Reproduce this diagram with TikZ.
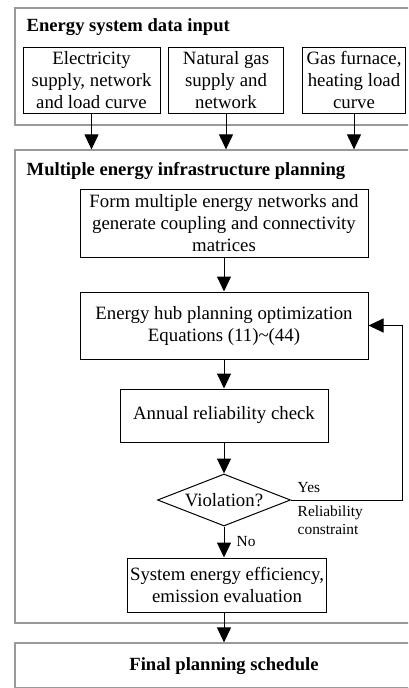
\documentclass[tikz,border=0pt]{standalone}
\usepackage{fontspec}
\setmainfont{Liberation Serif}
\usetikzlibrary{shapes.geometric,arrows.meta}

\begin{document}
\begin{tikzpicture}[x=1pt,y=-1pt,>={Triangle[width=14pt,length=15pt]},thick,
    box/.style={rectangle,draw,line width=1pt,align=center,inner sep=0pt,font=\fontsize{18.8}{22}\selectfont},
    group/.style={rectangle,draw=gray!80,line width=1.2pt,inner sep=0pt},
    title/.style={anchor=west,font=\fontsize{18.6}{22}\selectfont\bfseries},
    note/.style={anchor=west,align=left,font=\fontsize{15.4}{17.5}\selectfont}]
    \useasboundingbox (0,0) rectangle (408,688);
    \clip (0,0) rectangle (408,688);

    % data input
    \node[group,minimum width=398pt,minimum height=117pt] (input) at (214,66.5) {};
    \node[title] (inputtitle) at (23,27) {Energy system data input};
    \node[box,minimum width=137pt,minimum height=66pt] (elec) at (91.5,80) {Electricity\\supply, network\\and load curve};
    \node[box,minimum width=115pt,minimum height=66pt] (gas) at (226,80) {Natural gas\\supply and\\network};
    \node[box,minimum width=103pt,minimum height=66pt] (furn) at (354,80) {Gas furnace,\\heating load\\curve};

    % planning
    \node[group,minimum width=398pt,minimum height=473pt] (plan) at (214,386.5) {};
    \node[title] (plantitle) at (23,171) {Multiple energy infrastructure planning};
    \node[box,minimum width=288pt,minimum height=68pt] (form) at (224,223) {Form multiple energy networks and\\generate coupling and connectivity\\matrices};
    \node[box,minimum width=288pt,minimum height=67pt] (hub) at (224,325.5) {Energy hub planning optimization\\Equations (11)\textasciitilde(44)};
    \node[box,minimum width=208pt,minimum height=53pt] (annual) at (224,415.5) {Annual reliability check};
    \node[box,diamond,aspect=2.6,minimum width=133pt,minimum height=52pt] (viol) at (224,500) {Violation?};
    \node[box,minimum width=199pt,minimum height=54pt] (sys) at (227,585) {System energy efficiency,\\emission evaluation};
    \coordinate (loop) at (402,500);

    % final
    \node[group,minimum width=398pt,minimum height=45pt] (final) at (214,665.5) {};
    \node[font=\fontsize{18.6}{22}\selectfont\bfseries] (finaltitle) at (224,666) {Final planning schedule};

    \node[note] (yes) at (294,488) {Yes};
    \node[note] (rel) at (294,520) {Reliability\\constraint};
    \node[note] (no) at (233,542) {No};

    \draw[->,line width=1pt] (elec.south) -- (elec.south |- plan.north);
    \draw[->,line width=1pt] (gas.south) -- (gas.south |- plan.north);
    \draw[->,line width=1pt] (furn.south) -- (furn.south |- plan.north);
    \draw[->,line width=1pt] (form) -- (hub);
    \draw[->,line width=1pt] (hub) -- (annual);
    \draw[->,line width=1pt] (annual) -- (viol);
    \draw[->,line width=1pt] (viol.south) -- (viol.south |- sys.north);
    \draw[->,line width=1pt] (viol.east) -- (loop) |- (hub.east);
    \draw[->,line width=1pt] (viol.south |- sys.south) -- (viol.south |- final.north);
\end{tikzpicture}
\end{document}
